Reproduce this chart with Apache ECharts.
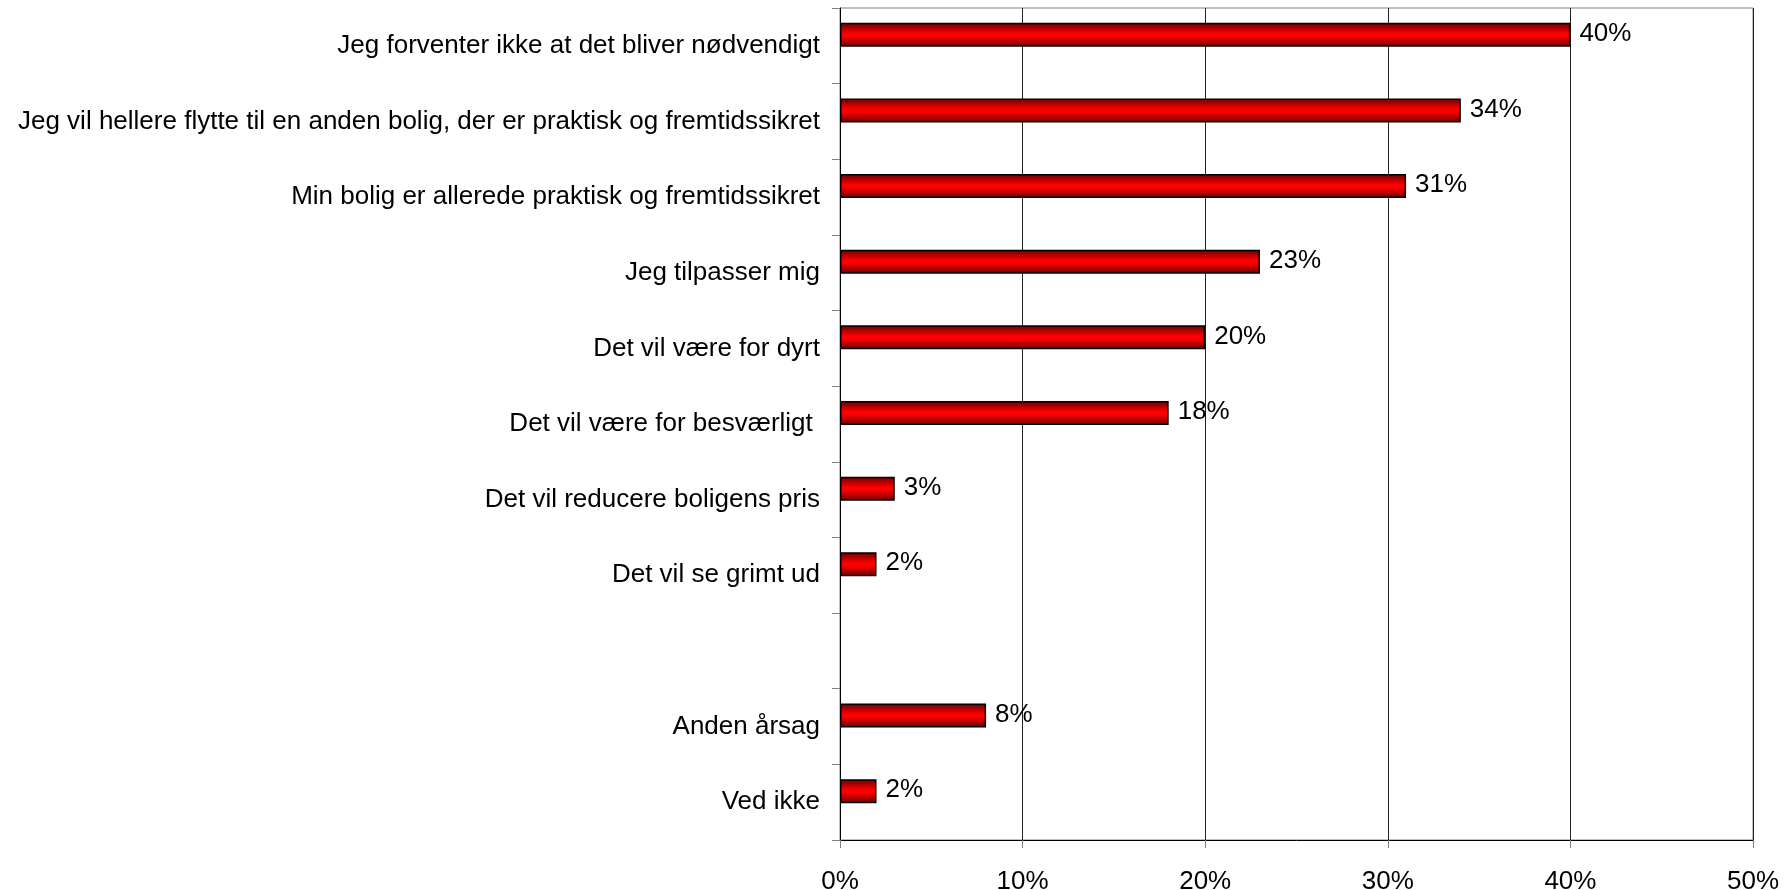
<!DOCTYPE html>
<html>
<head>
<meta charset="utf-8">
<script src="https://cdn.jsdelivr.net/npm/echarts@6/dist/echarts.min.js"></script>
<style>
  html, body { margin: 0; padding: 0; background: #fff; }
  #chart { width: 1791px; height: 890px; }
</style>
</head>
<body>
<div id="chart"></div>
<script>
// kategorier, oppefra og ned ('' = tom række mellem grupperne)
const categories = [
	'Jeg forventer ikke at det bliver nødvendigt',
	'Jeg vil hellere flytte til en anden bolig, der er praktisk og fremtidssikret',
	'Min bolig er allerede praktisk og fremtidssikret',
	'Jeg tilpasser mig',
	'Det vil være for dyrt',
	'Det vil være for besværligt ',
	'Det vil reducere boligens pris',
	'Det vil se grimt ud',
	'',
	'Anden årsag',
	'Ved ikke'
]
// andel i procent
const shares = [40, 34, 31, 23, 20, 18, 3, 2, null, 8, 2]
const xTicks = [0, 10, 20, 30, 40, 50]

const font = '"Liberation Sans", Arial, sans-serif'
const chart = echarts.init(document.getElementById('chart'))

const barFill = new echarts.graphic.LinearGradient(0, 0, 0, 1, [
	{ offset: 0, color: '#6a0000' },
	{ offset: 0.45, color: '#ff0000' },
	{ offset: 0.55, color: '#ff0000' },
	{ offset: 1, color: '#6a0000' }
])

const options = {
	animation: false,
	grid: {
		left: 840,
		right: 38,
		top: 8,
		bottom: 50,
		outerBoundsMode: 'none',
		show: true,
		borderColor: '#808080',
		borderWidth: 1
	},
	xAxis: {
		type: 'value',
		min: xTicks[0],
		max: xTicks[xTicks.length - 1],
		interval: 10,
		axisLine: { show: true, lineStyle: { color: '#000', width: 1 } },
		axisTick: { show: true, length: 8, lineStyle: { color: '#808080' } },
		splitLine: { show: true, lineStyle: { color: '#222', width: 1 } },
		axisLabel: {
			formatter: '{value}%',
			fontFamily: font,
			fontSize: 26,
			color: '#000',
			margin: 29
		}
	},
	yAxis: {
		type: 'category',
		inverse: true,
		data: categories,
		axisLine: { show: true, lineStyle: { color: '#000', width: 1 } },
		axisTick: { show: true, length: 8, alignWithLabel: false, lineStyle: { color: '#808080' } },
		axisLabel: {
			fontFamily: font,
			fontSize: 26,
			color: '#000',
			margin: 20,
			interval: 0
		}
	},
	series: [
		{
			name: 'Andel',
			type: 'bar',
			data: shares,
			barWidth: 24,
			barGap: '0%',
			itemStyle: {
				color: barFill,
				borderColor: '#000',
				borderWidth: 1.5
			},
			label: {
				show: true,
				position: 'right',
				distance: 9,
				offset: [0, -1],
				formatter: p => p.value + '%',
				fontFamily: font,
				fontSize: 26,
				color: '#000'
			}
		},
		{
			// usynlig plads-serie der skubber søjlen op i rækken
			name: 'spacer',
			type: 'bar',
			data: shares.map(() => 0),
			barWidth: 22,
			barGap: '0%',
			itemStyle: { color: 'transparent' },
			silent: true
		}
	]
}

chart.setOption(options)
</script>
</body>
</html>
